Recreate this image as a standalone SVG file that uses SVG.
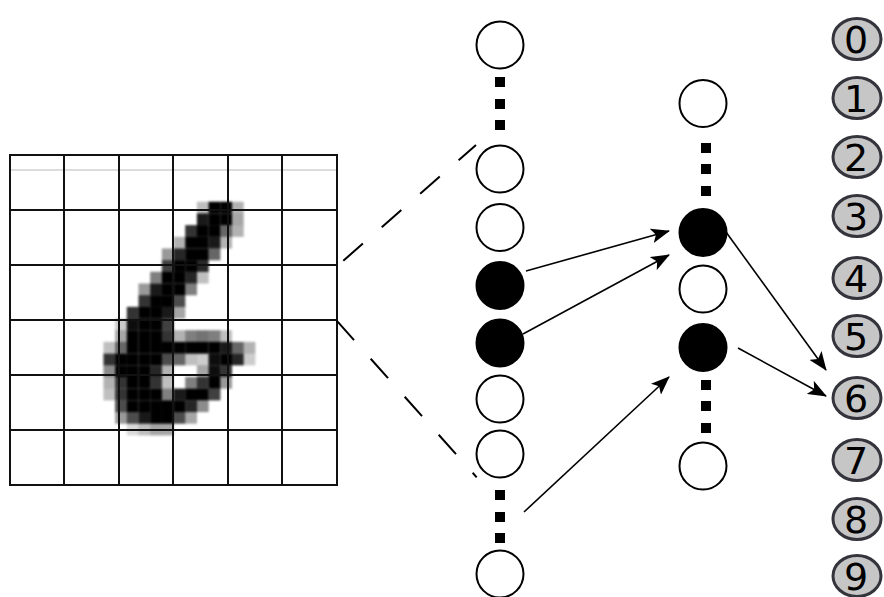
<svg xmlns="http://www.w3.org/2000/svg" width="884" height="597" viewBox="0 0 884 597">
  <style>
    .grid { stroke: #111; stroke-width: 2; fill: none; }
    .node { fill: #fff; stroke: #000; stroke-width: 2; }
    .on { fill: #000; stroke: #000; stroke-width: 2; }
    .dot { fill: #000; }
    .dash { stroke: #000; stroke-width: 2; stroke-dasharray: 26 25; fill: none; }
    .edge { stroke: #000; stroke-width: 1.6; fill: none; marker-end: url(#head); }
    .out ellipse { fill: #c6c6c6; stroke: #34343c; stroke-width: 3; }
    .out text { font-family: "DejaVu Sans", Verdana, sans-serif; font-size: 38px; fill: #000; text-anchor: middle; }
  </style>
  <defs>
    <marker id="head" markerWidth="19" markerHeight="15" refX="18" refY="7.5" orient="auto" markerUnits="userSpaceOnUse">
      <path d="M0,0 L19,7.5 L0,15 L4.5,7.5 z" fill="#000"/>
    </marker>
    <filter id="soft" x="-5%" y="-5%" width="110%" height="110%">
      <feGaussianBlur stdDeviation="1"/>
    </filter>
  </defs>

  <rect width="884" height="597" fill="#fff"/>

  <!-- handwritten digit, 28x28 pixel raster scaled onto the 6x6 grid -->
  <g id="digit-image">
    <g id="pixels" fill="#000" filter="url(#soft)">
      <!-- row 4 -->
      <rect x="196.88" y="201.72" width="11.8" height="11.8" fill-opacity="0.25"/>
      <rect x="208.56" y="201.72" width="11.8" height="11.8" fill-opacity="1"/>
      <rect x="220.24" y="201.72" width="11.8" height="11.8" fill-opacity="1"/>
      <rect x="231.92" y="201.72" width="11.8" height="11.8" fill-opacity="0.3"/>
      <!-- row 5 -->
      <rect x="196.88" y="213.4" width="11.8" height="11.8" fill-opacity="0.9"/>
      <rect x="208.56" y="213.4" width="11.8" height="11.8" fill-opacity="1"/>
      <rect x="220.24" y="213.4" width="11.8" height="11.8" fill-opacity="1"/>
      <rect x="231.92" y="213.4" width="11.8" height="11.8" fill-opacity="0.35"/>
      <!-- row 6 -->
      <rect x="185.2" y="225.08" width="11.8" height="11.8" fill-opacity="0.8"/>
      <rect x="196.88" y="225.08" width="11.8" height="11.8" fill-opacity="1"/>
      <rect x="208.56" y="225.08" width="11.8" height="11.8" fill-opacity="1"/>
      <rect x="220.24" y="225.08" width="11.8" height="11.8" fill-opacity="0.6"/>
      <rect x="231.92" y="225.08" width="11.8" height="11.8" fill-opacity="0.3"/>
      <!-- row 7 -->
      <rect x="173.52" y="236.76" width="11.8" height="11.8" fill-opacity="0.3"/>
      <rect x="185.2" y="236.76" width="11.8" height="11.8" fill-opacity="1"/>
      <rect x="196.88" y="236.76" width="11.8" height="11.8" fill-opacity="1"/>
      <rect x="208.56" y="236.76" width="11.8" height="11.8" fill-opacity="0.9"/>
      <rect x="220.24" y="236.76" width="11.8" height="11.8" fill-opacity="0.3"/>
      <!-- row 8 -->
      <rect x="161.84" y="248.44" width="11.8" height="11.8" fill-opacity="0.4"/>
      <rect x="173.52" y="248.44" width="11.8" height="11.8" fill-opacity="0.85"/>
      <rect x="185.2" y="248.44" width="11.8" height="11.8" fill-opacity="1"/>
      <rect x="196.88" y="248.44" width="11.8" height="11.8" fill-opacity="1"/>
      <rect x="208.56" y="248.44" width="11.8" height="11.8" fill-opacity="0.6"/>
      <!-- row 9 -->
      <rect x="161.84" y="260.12" width="11.8" height="11.8" fill-opacity="0.75"/>
      <rect x="173.52" y="260.12" width="11.8" height="11.8" fill-opacity="1"/>
      <rect x="185.2" y="260.12" width="11.8" height="11.8" fill-opacity="1"/>
      <rect x="196.88" y="260.12" width="11.8" height="11.8" fill-opacity="0.85"/>
      <!-- row 10 -->
      <rect x="150.16" y="271.8" width="11.8" height="11.8" fill-opacity="0.5"/>
      <rect x="161.84" y="271.8" width="11.8" height="11.8" fill-opacity="1"/>
      <rect x="173.52" y="271.8" width="11.8" height="11.8" fill-opacity="1"/>
      <rect x="185.2" y="271.8" width="11.8" height="11.8" fill-opacity="0.85"/>
      <rect x="196.88" y="271.8" width="11.8" height="11.8" fill-opacity="0.25"/>
      <!-- row 11 -->
      <rect x="138.48" y="283.48" width="11.8" height="11.8" fill-opacity="0.4"/>
      <rect x="150.16" y="283.48" width="11.8" height="11.8" fill-opacity="0.9"/>
      <rect x="161.84" y="283.48" width="11.8" height="11.8" fill-opacity="1"/>
      <rect x="173.52" y="283.48" width="11.8" height="11.8" fill-opacity="1"/>
      <rect x="185.2" y="283.48" width="11.8" height="11.8" fill-opacity="0.5"/>
      <!-- row 12 -->
      <rect x="138.48" y="295.16" width="11.8" height="11.8" fill-opacity="0.8"/>
      <rect x="150.16" y="295.16" width="11.8" height="11.8" fill-opacity="1"/>
      <rect x="161.84" y="295.16" width="11.8" height="11.8" fill-opacity="1"/>
      <rect x="173.52" y="295.16" width="11.8" height="11.8" fill-opacity="0.7"/>
      <!-- row 13 -->
      <rect x="126.8" y="306.84" width="11.8" height="11.8" fill-opacity="0.8"/>
      <rect x="138.48" y="306.84" width="11.8" height="11.8" fill-opacity="1"/>
      <rect x="150.16" y="306.84" width="11.8" height="11.8" fill-opacity="1"/>
      <rect x="161.84" y="306.84" width="11.8" height="11.8" fill-opacity="0.9"/>
      <rect x="173.52" y="306.84" width="11.8" height="11.8" fill-opacity="0.35"/>
      <!-- row 14 -->
      <rect x="115.12" y="318.52" width="11.8" height="11.8" fill-opacity="0.2"/>
      <rect x="126.8" y="318.52" width="11.8" height="11.8" fill-opacity="0.95"/>
      <rect x="138.48" y="318.52" width="11.8" height="11.8" fill-opacity="1"/>
      <rect x="150.16" y="318.52" width="11.8" height="11.8" fill-opacity="1"/>
      <rect x="161.84" y="318.52" width="11.8" height="11.8" fill-opacity="0.75"/>
      <!-- row 15 -->
      <rect x="115.12" y="330.2" width="11.8" height="11.8" fill-opacity="0.35"/>
      <rect x="126.8" y="330.2" width="11.8" height="11.8" fill-opacity="1"/>
      <rect x="138.48" y="330.2" width="11.8" height="11.8" fill-opacity="1"/>
      <rect x="150.16" y="330.2" width="11.8" height="11.8" fill-opacity="1"/>
      <rect x="161.84" y="330.2" width="11.8" height="11.8" fill-opacity="0.8"/>
      <rect x="173.52" y="330.2" width="11.8" height="11.8" fill-opacity="0.3"/>
      <rect x="185.2" y="330.2" width="11.8" height="11.8" fill-opacity="0.5"/>
      <rect x="196.88" y="330.2" width="11.8" height="11.8" fill-opacity="0.55"/>
      <rect x="208.56" y="330.2" width="11.8" height="11.8" fill-opacity="0.5"/>
      <rect x="220.24" y="330.2" width="11.8" height="11.8" fill-opacity="0.25"/>
      <!-- row 16 -->
      <rect x="103.44" y="341.88" width="11.8" height="11.8" fill-opacity="0.25"/>
      <rect x="115.12" y="341.88" width="11.8" height="11.8" fill-opacity="0.6"/>
      <rect x="126.8" y="341.88" width="11.8" height="11.8" fill-opacity="1"/>
      <rect x="138.48" y="341.88" width="11.8" height="11.8" fill-opacity="1"/>
      <rect x="150.16" y="341.88" width="11.8" height="11.8" fill-opacity="1"/>
      <rect x="161.84" y="341.88" width="11.8" height="11.8" fill-opacity="1"/>
      <rect x="173.52" y="341.88" width="11.8" height="11.8" fill-opacity="1"/>
      <rect x="185.2" y="341.88" width="11.8" height="11.8" fill-opacity="1"/>
      <rect x="196.88" y="341.88" width="11.8" height="11.8" fill-opacity="1"/>
      <rect x="208.56" y="341.88" width="11.8" height="11.8" fill-opacity="1"/>
      <rect x="220.24" y="341.88" width="11.8" height="11.8" fill-opacity="0.9"/>
      <rect x="231.92" y="341.88" width="11.8" height="11.8" fill-opacity="0.6"/>
      <rect x="243.6" y="341.88" width="11.8" height="11.8" fill-opacity="0.3"/>
      <!-- row 17 -->
      <rect x="103.44" y="353.56" width="11.8" height="11.8" fill-opacity="0.8"/>
      <rect x="115.12" y="353.56" width="11.8" height="11.8" fill-opacity="1"/>
      <rect x="126.8" y="353.56" width="11.8" height="11.8" fill-opacity="1"/>
      <rect x="138.48" y="353.56" width="11.8" height="11.8" fill-opacity="1"/>
      <rect x="150.16" y="353.56" width="11.8" height="11.8" fill-opacity="1"/>
      <rect x="161.84" y="353.56" width="11.8" height="11.8" fill-opacity="0.7"/>
      <rect x="173.52" y="353.56" width="11.8" height="11.8" fill-opacity="0.6"/>
      <rect x="185.2" y="353.56" width="11.8" height="11.8" fill-opacity="0.25"/>
      <rect x="196.88" y="353.56" width="11.8" height="11.8" fill-opacity="0.2"/>
      <rect x="208.56" y="353.56" width="11.8" height="11.8" fill-opacity="0.95"/>
      <rect x="220.24" y="353.56" width="11.8" height="11.8" fill-opacity="1"/>
      <rect x="231.92" y="353.56" width="11.8" height="11.8" fill-opacity="0.85"/>
      <rect x="243.6" y="353.56" width="11.8" height="11.8" fill-opacity="0.2"/>
      <!-- row 18 -->
      <rect x="103.44" y="365.24" width="11.8" height="11.8" fill-opacity="0.45"/>
      <rect x="115.12" y="365.24" width="11.8" height="11.8" fill-opacity="1"/>
      <rect x="126.8" y="365.24" width="11.8" height="11.8" fill-opacity="1"/>
      <rect x="138.48" y="365.24" width="11.8" height="11.8" fill-opacity="1"/>
      <rect x="150.16" y="365.24" width="11.8" height="11.8" fill-opacity="0.85"/>
      <rect x="161.84" y="365.24" width="11.8" height="11.8" fill-opacity="0.3"/>
      <rect x="196.88" y="365.24" width="11.8" height="11.8" fill-opacity="0.35"/>
      <rect x="208.56" y="365.24" width="11.8" height="11.8" fill-opacity="0.95"/>
      <rect x="220.24" y="365.24" width="11.8" height="11.8" fill-opacity="0.8"/>
      <!-- row 19 -->
      <rect x="103.44" y="376.92" width="11.8" height="11.8" fill-opacity="0.3"/>
      <rect x="115.12" y="376.92" width="11.8" height="11.8" fill-opacity="0.8"/>
      <rect x="126.8" y="376.92" width="11.8" height="11.8" fill-opacity="1"/>
      <rect x="138.48" y="376.92" width="11.8" height="11.8" fill-opacity="1"/>
      <rect x="150.16" y="376.92" width="11.8" height="11.8" fill-opacity="0.8"/>
      <rect x="161.84" y="376.92" width="11.8" height="11.8" fill-opacity="0.25"/>
      <rect x="185.2" y="376.92" width="11.8" height="11.8" fill-opacity="0.5"/>
      <rect x="196.88" y="376.92" width="11.8" height="11.8" fill-opacity="0.8"/>
      <rect x="208.56" y="376.92" width="11.8" height="11.8" fill-opacity="1"/>
      <rect x="220.24" y="376.92" width="11.8" height="11.8" fill-opacity="0.4"/>
      <!-- row 20 -->
      <rect x="103.44" y="388.6" width="11.8" height="11.8" fill-opacity="0.25"/>
      <rect x="115.12" y="388.6" width="11.8" height="11.8" fill-opacity="0.8"/>
      <rect x="126.8" y="388.6" width="11.8" height="11.8" fill-opacity="1"/>
      <rect x="138.48" y="388.6" width="11.8" height="11.8" fill-opacity="1"/>
      <rect x="150.16" y="388.6" width="11.8" height="11.8" fill-opacity="1"/>
      <rect x="161.84" y="388.6" width="11.8" height="11.8" fill-opacity="0.5"/>
      <rect x="173.52" y="388.6" width="11.8" height="11.8" fill-opacity="0.9"/>
      <rect x="185.2" y="388.6" width="11.8" height="11.8" fill-opacity="1"/>
      <rect x="196.88" y="388.6" width="11.8" height="11.8" fill-opacity="1"/>
      <rect x="208.56" y="388.6" width="11.8" height="11.8" fill-opacity="0.75"/>
      <!-- row 21 -->
      <rect x="115.12" y="400.28" width="11.8" height="11.8" fill-opacity="0.7"/>
      <rect x="126.8" y="400.28" width="11.8" height="11.8" fill-opacity="1"/>
      <rect x="138.48" y="400.28" width="11.8" height="11.8" fill-opacity="1"/>
      <rect x="150.16" y="400.28" width="11.8" height="11.8" fill-opacity="1"/>
      <rect x="161.84" y="400.28" width="11.8" height="11.8" fill-opacity="1"/>
      <rect x="173.52" y="400.28" width="11.8" height="11.8" fill-opacity="1"/>
      <rect x="185.2" y="400.28" width="11.8" height="11.8" fill-opacity="0.85"/>
      <rect x="196.88" y="400.28" width="11.8" height="11.8" fill-opacity="0.45"/>
      <!-- row 22 -->
      <rect x="115.12" y="411.96" width="11.8" height="11.8" fill-opacity="0.4"/>
      <rect x="126.8" y="411.96" width="11.8" height="11.8" fill-opacity="0.7"/>
      <rect x="138.48" y="411.96" width="11.8" height="11.8" fill-opacity="0.9"/>
      <rect x="150.16" y="411.96" width="11.8" height="11.8" fill-opacity="1"/>
      <rect x="161.84" y="411.96" width="11.8" height="11.8" fill-opacity="1"/>
      <rect x="173.52" y="411.96" width="11.8" height="11.8" fill-opacity="0.7"/>
      <rect x="185.2" y="411.96" width="11.8" height="11.8" fill-opacity="0.35"/>
      <!-- row 23 -->
      <rect x="126.8" y="423.64" width="11.8" height="11.8" fill-opacity="0.15"/>
      <rect x="138.48" y="423.64" width="11.8" height="11.8" fill-opacity="0.25"/>
      <rect x="150.16" y="423.64" width="11.8" height="11.8" fill-opacity="0.35"/>
      <rect x="161.84" y="423.64" width="11.8" height="11.8" fill-opacity="0.35"/>
    </g>
    <!-- faint scan line along the top row -->
    <line x1="10" y1="170" x2="337" y2="170" stroke="#dcdcdc" stroke-width="2"/>
    <!-- 6x6 overlay grid -->
    <g class="grid">
      <rect x="10" y="155" width="327" height="330"/>
      <path d="M64,155V485 M119,155V485 M173,155V485 M228,155V485 M282,155V485"/>
      <path d="M10,210H337 M10,265H337 M10,320H337 M10,375H337 M10,430H337"/>
    </g>
  </g>

  <!-- input layer -->
  <g id="input-layer">
    <g id="in-0"><circle class="node" cx="500" cy="45" r="23.5"/></g>
    <g id="in-gap-top">
      <rect class="dot" x="495" y="77" width="10" height="10"/>
      <rect class="dot" x="495" y="99" width="10" height="10"/>
      <rect class="dot" x="495" y="120" width="10" height="10"/>
    </g>
    <g id="in-1"><circle class="node" cx="500" cy="169" r="23.5"/></g>
    <g id="in-2"><circle class="node" cx="500" cy="227.5" r="23.5"/></g>
    <g id="in-3"><circle class="on" cx="500" cy="285.5" r="23.5"/></g>
    <g id="in-4"><circle class="on" cx="500" cy="343" r="23.5"/></g>
    <g id="in-5"><circle class="node" cx="500" cy="399" r="23.5"/></g>
    <g id="in-6"><circle class="node" cx="500" cy="454" r="23.5"/></g>
    <g id="in-gap-bottom">
      <rect class="dot" x="495" y="490" width="10" height="10"/>
      <rect class="dot" x="495" y="512" width="10" height="10"/>
      <rect class="dot" x="495" y="533" width="10" height="10"/>
    </g>
    <g id="in-7"><circle class="node" cx="500" cy="574" r="23.5"/></g>
  </g>

  <!-- hidden layer -->
  <g id="hidden-layer">
    <g id="h-0"><circle class="node" cx="703" cy="103.5" r="23.5"/></g>
    <g id="h-gap-top">
      <rect class="dot" x="701" y="143" width="10" height="10"/>
      <rect class="dot" x="701" y="164" width="10" height="10"/>
      <rect class="dot" x="701" y="186" width="10" height="10"/>
    </g>
    <g id="h-1"><circle class="on" cx="703" cy="232.5" r="23.5"/></g>
    <g id="h-2"><circle class="node" cx="703" cy="289" r="23.5"/></g>
    <g id="h-3"><circle class="on" cx="703" cy="347.5" r="23.5"/></g>
    <g id="h-gap-bottom">
      <rect class="dot" x="701" y="380" width="10" height="10"/>
      <rect class="dot" x="701" y="401" width="10" height="10"/>
      <rect class="dot" x="701" y="423" width="10" height="10"/>
    </g>
    <g id="h-4"><circle class="node" cx="703" cy="466" r="23.5"/></g>
  </g>

  <!-- output classes -->
  <g id="output-layer" class="out">
    <g id="out-0"><ellipse cx="857" cy="39" rx="24" ry="20.5"/><text x="856" y="53">0</text></g>
    <g id="out-1"><ellipse cx="857" cy="98" rx="24" ry="20.5"/><text x="856" y="112">1</text></g>
    <g id="out-2"><ellipse cx="857" cy="157" rx="24" ry="20.5"/><text x="856" y="171">2</text></g>
    <g id="out-3"><ellipse cx="857" cy="216" rx="24" ry="20.5"/><text x="856" y="230">3</text></g>
    <g id="out-4"><ellipse cx="857" cy="278" rx="24" ry="20.5"/><text x="856" y="292">4</text></g>
    <g id="out-5"><ellipse cx="857" cy="336" rx="24" ry="20.5"/><text x="856" y="350">5</text></g>
    <g id="out-6"><ellipse cx="857" cy="398" rx="24" ry="20.5"/><text x="856" y="412">6</text></g>
    <g id="out-7"><ellipse cx="857" cy="460" rx="24" ry="20.5"/><text x="856" y="474">7</text></g>
    <g id="out-8"><ellipse cx="857" cy="519" rx="24" ry="20.5"/><text x="856" y="533">8</text></g>
    <g id="out-9"><ellipse cx="857" cy="576" rx="24" ry="20.5"/><text x="856" y="590">9</text></g>
  </g>

  <!-- connectors -->
  <g id="connectors">
    <line class="dash" x1="343.3" y1="260.7" x2="476" y2="145"/>
    <line class="dash" x1="336.7" y1="320.7" x2="476.7" y2="477.3"/>
    <line class="edge" x1="526" y1="271" x2="669" y2="231"/>
    <line class="edge" x1="523" y1="334" x2="669" y2="255"/>
    <line class="edge" x1="524" y1="512" x2="669" y2="377"/>
    <line class="edge" x1="726" y1="232" x2="826" y2="370"/>
    <line class="edge" x1="738" y1="348" x2="826" y2="396"/>
  </g>
</svg>
